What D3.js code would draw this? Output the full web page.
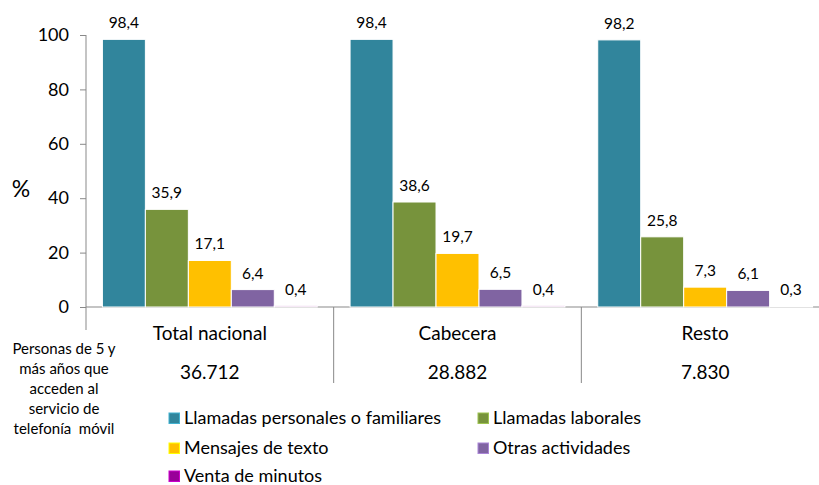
<!DOCTYPE html>
<html>
<head>
<meta charset="utf-8">
<script src="https://cdn.jsdelivr.net/npm/d3@7"></script>
<style>
  body { margin: 0; background: #fff; }
  text { font-family: Lato, "Open Sans", sans-serif; fill: #000; }
</style>
</head>
<body>
<div id="chart"></div>
<script>
const categories = ['Total nacional', 'Cabecera', 'Resto'];
const totals = ['36.712', '28.882', '7.830'];
const series = ['Llamadas personales o familiares', 'Llamadas laborales', 'Mensajes de texto', 'Otras actividades', 'Venta de minutos'];
const colors = ['#31859C', '#77933C', '#FFC000', '#8064A2', '#990099'];
const values = [
  [98.4, 35.9, 17.1, 6.4, 0.4],
  [98.4, 38.6, 19.7, 6.5, 0.4],
  [98.2, 25.8, 7.3, 6.1, 0.3]
];
const yTicks = [0, 20, 40, 60, 80, 100];
const sideNote = ['Personas de 5 y', 'más años que', 'acceden al', 'servicio de', 'telefonía  móvil'];

const width = 819;
const height = 485;
const plotLeft = 86;
const plotRight = 829;
const plotTop = 35;
const baseY = 307;
const axisColor = '#898989';

const fmt = d => d.toFixed(1).replace('.', ',');

const svg = d3.select('#chart')
  .append('svg')
  .attr('width', width)
  .attr('height', height);

// Scales
const x0 = d3.scaleBand()
  .domain(categories)
  .range([plotLeft, plotRight]);

const x1 = d3.scaleBand()
  .domain(series)
  .range([16.4, x0.bandwidth() - 16.4]);

const y = d3.scaleLinear()
  .domain([0, 100])
  .range([baseY, plotTop]);

// Y axis
const yAxis = svg.append('g')
  .attr('transform', 'translate(' + plotLeft + ',0)')
  .call(d3.axisLeft(y).tickValues(yTicks).tickSize(6).tickPadding(11));
yAxis.select('.domain').remove();
yAxis.selectAll('line').attr('stroke', axisColor);
yAxis.selectAll('text')
  .attr('font-size', '18px')
  .style('font-family', 'Lato, sans-serif')
  .attr('fill', '#000');

svg.append('line')
  .attr('x1', plotLeft).attr('x2', plotLeft)
  .attr('y1', plotTop).attr('y2', 330)
  .attr('stroke', axisColor);

svg.append('line')
  .attr('x1', plotLeft).attr('x2', width)
  .attr('y1', baseY).attr('y2', baseY)
  .attr('stroke', axisColor);

// group dividers
svg.selectAll('.divider')
  .data(categories.slice(1))
  .enter()
  .append('line')
  .attr('x1', d => x0(d)).attr('x2', d => x0(d))
  .attr('y1', baseY).attr('y2', 383)
  .attr('stroke', axisColor);

svg.append('text')
  .attr('x', 21)
  .attr('y', 197)
  .attr('text-anchor', 'middle')
  .attr('font-size', '23px')
  .text('%');

// Bars
const groups = svg.selectAll('.group')
  .data(values)
  .enter()
  .append('g')
  .attr('transform', (d, i) => 'translate(' + x0(categories[i]) + ',0)');

groups.selectAll('rect')
  .data(d => d)
  .enter()
  .append('rect')
  .attr('x', (d, i) => x1(series[i]))
  .attr('y', d => y(d))
  .attr('width', x1.bandwidth())
  .attr('height', d => baseY - y(d))
  .attr('fill', (d, i) => colors[i])
  .attr('stroke', '#fff')
  .attr('stroke-width', 1);

groups.selectAll('.val')
  .data(d => d)
  .enter()
  .append('text')
  .attr('x', (d, i) => x1(series[i]) + x1.bandwidth() / 2)
  .attr('y', d => y(d) - 11)
  .attr('text-anchor', 'middle')
  .attr('font-size', '15.5px')
  .text(fmt);

// Category labels and totals
svg.selectAll('.cat')
  .data(categories)
  .enter()
  .append('text')
  .attr('x', d => x0(d) + x0.bandwidth() / 2)
  .attr('y', 340)
  .attr('text-anchor', 'middle')
  .attr('font-size', '19px')
  .text(d => d);

svg.selectAll('.tot')
  .data(totals)
  .enter()
  .append('text')
  .attr('x', (d, i) => x0(categories[i]) + x0.bandwidth() / 2)
  .attr('y', 379)
  .attr('text-anchor', 'middle')
  .attr('font-size', '19px')
  .text(d => d);

svg.selectAll('.note')
  .data(sideNote)
  .enter()
  .append('text')
  .attr('x', 64)
  .attr('y', (d, i) => 354 + i * 20)
  .attr('text-anchor', 'middle')
  .attr('font-size', '15px')
  .style('white-space', 'pre')
  .text(d => d);

// Legend
const legendPos = [[169, 418], [478, 418], [169, 448], [478, 448], [169, 476]];
const legend = svg.selectAll('.legend')
  .data(series)
  .enter()
  .append('g')
  .attr('transform', (d, i) => 'translate(' + legendPos[i][0] + ',' + legendPos[i][1] + ')');

legend.append('rect')
  .attr('x', 0)
  .attr('y', -5)
  .attr('width', 10.5)
  .attr('height', 10.5)
  .attr('fill', (d, i) => colors[i])
  .attr('stroke', (d, i) => d3.color(colors[i]).brighter(0.8))
  .attr('stroke-width', 1);

legend.append('text')
  .attr('x', 15)
  .attr('y', 6)
  .attr('font-size', '18px')
  .text(d => d);
</script>
</body>
</html>
